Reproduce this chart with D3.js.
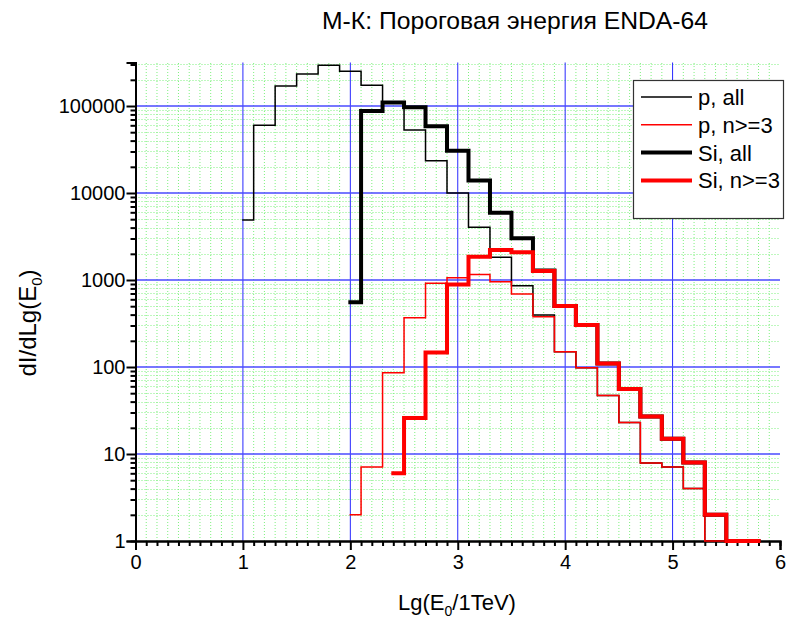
<!DOCTYPE html>
<html>
<head>
<meta charset="utf-8">
<script src="https://cdn.jsdelivr.net/npm/d3@7"></script>
<style>
body { margin: 0; background: #fff; }
svg { display: block; font-family: "Liberation Sans", Arial, sans-serif; }
</style>
</head>
<body>
<div id="chart"></div>
<script>
// bin starts (Lg E0) and heights; last edge kept separately
var pAllX  = [1.0, 1.1, 1.3, 1.5, 1.7, 1.9, 2.1, 2.3, 2.5, 2.7, 2.9, 3.1, 3.3, 3.5, 3.7, 3.9, 4.1, 4.3, 4.5, 4.7, 4.9, 5.1, 5.3];
var pAllY  = [4900, 60000, 170000, 233000, 294000, 251000, 173000, 112000, 53000, 23500, 10000, 4030, 1830, 860, 396, 150, 98, 47, 23, 7.9, 7.1, 4.0, 1];
var pAllEnd = 5.5;

var pN3X   = [2.0, 2.1, 2.3, 2.5, 2.7, 2.9, 3.1, 3.3, 3.5, 3.7, 3.9, 4.1, 4.3, 4.5, 4.7, 4.9, 5.1, 5.3];
var pN3Y   = [2.0, 7.1, 86, 369, 916, 1063, 1160, 955, 690, 378, 150, 98, 47, 23, 7.9, 7.1, 4.0, 1];
var pN3End = 5.5;

var siAllX = [2.0, 2.1, 2.3, 2.5, 2.7, 2.9, 3.1, 3.3, 3.5, 3.7, 3.9, 4.1, 4.3, 4.5, 4.7, 4.9, 5.1, 5.3, 5.5];
var siAllY = [555, 87700, 110000, 96600, 58400, 30600, 13900, 5940, 3015, 1290, 503, 304, 110, 56, 27, 15, 8.0, 2.0, 1];
var siAllEnd = 5.8;

var siN3X  = [2.4, 2.5, 2.7, 2.9, 3.1, 3.3, 3.5, 3.7, 3.9, 4.1, 4.3, 4.5, 4.7, 4.9, 5.1, 5.3, 5.5];
var siN3Y  = [6.0, 26, 147, 890, 1850, 2210, 2080, 1270, 503, 304, 110, 56, 27, 15, 8.0, 2.0, 1];
var siN3End = 5.8;

var xTicks = [0, 1, 2, 3, 4, 5, 6];
var yTicks = [1, 10, 100, 1000, 10000, 100000];
var legendNames = ["p, all", "p, n>=3", "Si, all", "Si, n>=3"];

var width = 788, height = 619;

var x = d3.scaleLinear().domain([0, 6]).range([135.5, 780]);
var y = d3.scaleLog().domain([1, Math.pow(10, 5.5)]).range([541, 62.5]);

var svg = d3.select("#chart").append("svg")
    .attr("width", width)
    .attr("height", height);

// minor grid
var xMinor = d3.range(1, 61).map(function(i) { return i / 10; })
    .filter(function(v) { return Math.abs(v - Math.round(v)) > 1e-6; });
var yMinor = [];
yTicks.forEach(function(d) {
    for (var k = 2; k <= 9; k++) {
        if (k * d <= y.domain()[1]) yMinor.push(k * d);
    }
});

svg.append("g").selectAll("line")
    .data(xMinor).enter().append("line")
    .attr("x1", function(d) { return x(d); })
    .attr("x2", function(d) { return x(d); })
    .attr("y1", y.range()[0])
    .attr("y2", y.range()[1])
    .attr("stroke", "#7ef07e")
    .attr("stroke-dasharray", "1,2");

svg.append("g").selectAll("line")
    .data(yMinor).enter().append("line")
    .attr("x1", x.range()[0])
    .attr("x2", x.range()[1])
    .attr("y1", function(d) { return Math.round(y(d)) + 0.5; })
    .attr("y2", function(d) { return Math.round(y(d)) + 0.5; })
    .attr("stroke", "#7ef07e")
    .attr("stroke-dasharray", "1,2");

// major grid
svg.append("g").selectAll("line")
    .data(xTicks.slice(1, -1)).enter().append("line")
    .attr("x1", function(d) { return x(d); })
    .attr("x2", function(d) { return x(d); })
    .attr("y1", y.range()[0])
    .attr("y2", y.range()[1])
    .attr("stroke", "#2828ff");

svg.append("g").selectAll("line")
    .data(yTicks.slice(1)).enter().append("line")
    .attr("x1", x.range()[0])
    .attr("x2", x.range()[1])
    .attr("y1", function(d) { return y(d); })
    .attr("y2", function(d) { return y(d); })
    .attr("stroke", "#4a4aff")
    .attr("stroke-width", 1.3);

// axes
var xAxisMinor = d3.axisBottom(x).tickValues(xMinor).tickSize(5).tickFormat("");
var xAxis = d3.axisBottom(x).tickValues(xTicks).tickSize(9).tickPadding(5).tickFormat(d3.format("d"));
var yAxisMinor = d3.axisLeft(y).tickValues(yMinor).tickSize(5).tickFormat("");
var yAxis = d3.axisLeft(y).tickValues(yTicks).tickSize(9).tickPadding(1).tickFormat(d3.format("d"));

function styleAxis(g) {
    g.select(".domain").attr("stroke", "#000").attr("stroke-width", 2);
    g.selectAll(".tick line").attr("stroke", "#000").attr("stroke-width", 2);
    g.selectAll(".tick text").attr("fill", "#000").attr("font-size", "20px")
        .attr("font-family", "'Liberation Sans', Arial, sans-serif");
}

svg.append("g").attr("transform", "translate(0," + y.range()[0] + ")").call(xAxisMinor).call(styleAxis);
svg.append("g").attr("transform", "translate(0," + y.range()[0] + ")").call(xAxis).call(styleAxis);
svg.append("g").attr("transform", "translate(" + x.range()[0] + ",0)").call(yAxisMinor).call(styleAxis);
svg.append("g").attr("transform", "translate(" + x.range()[0] + ",0)").call(yAxis).call(styleAxis);

// step histograms
var line = d3.line()
    .x(function(d) { return x(d[0]); })
    .y(function(d) { return y(d[1]); })
    .curve(d3.curveStepAfter);

function stepPoints(xs, ys, end) {
    var pts = xs.map(function(v, i) { return [v, ys[i]]; });
    pts.push([end, ys[ys.length - 1]]);
    return pts;
}

var series = [
    {pts: stepPoints(pAllX, pAllY, pAllEnd), color: "#000", w: 1.5},
    {pts: stepPoints(pN3X, pN3Y, pN3End), color: "#ff0000", w: 1.5},
    {pts: stepPoints(siAllX, siAllY, siAllEnd), color: "#000", w: 4},
    {pts: stepPoints(siN3X, siN3Y, siN3End), color: "#ff0000", w: 4}
];

svg.append("g").selectAll("path")
    .data(series).enter().append("path")
    .attr("d", function(d) { return line(d.pts); })
    .attr("fill", "none")
    .attr("stroke", function(d) { return d.color; })
    .attr("stroke-width", function(d) { return d.w; })
    .attr("stroke-linejoin", "miter")
    .attr("stroke-linecap", "square");

// legend
var legend = svg.append("g");
legend.append("rect")
    .attr("x", 633.5).attr("y", 80.5)
    .attr("width", 150).attr("height", 138)
    .attr("fill", "#fff")
    .attr("stroke", "#333")
    .attr("stroke-width", 1.2);

var rows = legend.selectAll("g.row")
    .data(series).enter().append("g")
    .attr("class", "row")
    .attr("transform", function(d, i) { return "translate(0," + (97 + i * 27.8) + ")"; });

rows.append("line")
    .attr("x1", 641).attr("x2", 692)
    .attr("stroke", function(d) { return d.color; })
    .attr("stroke-width", function(d) { return d.w; });

rows.append("text")
    .attr("x", 698)
    .attr("dy", "0.36em")
    .attr("font-size", "22px")
    .attr("fill", "#000")
    .text(function(d, i) { return legendNames[i]; });

// titles
svg.append("text")
    .attr("x", 322).attr("y", 29)
    .attr("font-size", "24px")
    .attr("textLength", 386)
    .attr("lengthAdjust", "spacingAndGlyphs")
    .text("М-К: Пороговая энергия ENDA-64");

var xt = svg.append("text")
    .attr("x", 457).attr("y", 610)
    .attr("text-anchor", "middle")
    .attr("font-size", "22px");
xt.append("tspan").text("Lg(E");
xt.append("tspan").attr("font-size", "14px").attr("dy", 6).text("0");
xt.append("tspan").attr("dy", -6).text("/1TeV)");

var yt = svg.append("text")
    .attr("transform", "translate(36,323) rotate(-90)")
    .attr("text-anchor", "middle")
    .attr("font-size", "24px");
yt.append("tspan").text("dI/dLg(E");
yt.append("tspan").attr("font-size", "15px").attr("dy", 6).text("0");
yt.append("tspan").attr("dy", -6).text(")");
</script>
</body>
</html>
